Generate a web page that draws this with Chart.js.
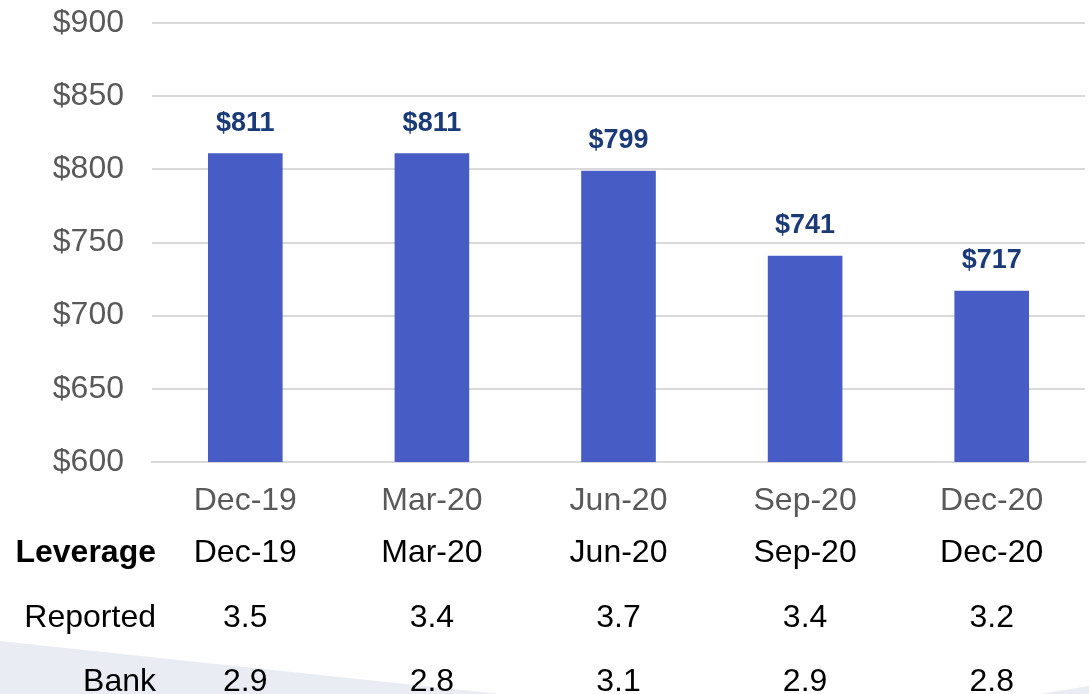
<!DOCTYPE html>
<html>
<head>
<meta charset="utf-8">
<script src="https://cdn.jsdelivr.net/npm/chart.js@4/dist/chart.umd.min.js"></script>
<style>
  html, body { margin: 0; padding: 0; background: #fff; }
  #wrap { position: relative; width: 1089px; height: 694px; overflow: hidden; }
  #deco { position: absolute; left: 0; top: 0; }
  #chart { position: absolute; left: 0; top: 0; }
</style>
</head>
<body>
<div id="wrap">
  <svg id="deco" width="1089" height="694">
    <polygon points="0,641 500,694 0,694" fill="#e9ecf2" />
    <polygon points="1040,694 1089,686 1089,694" fill="#e9ecf2" />
  </svg>
  <canvas id="chart" width="1089" height="694"></canvas>
</div>
<script>
// dados do gráfico
const quarters = ['Dec-19', 'Mar-20', 'Jun-20', 'Sep-20', 'Dec-20'];
const amounts = [811, 811, 799, 741, 717];
const reported = ['3.5', '3.4', '3.7', '3.4', '3.2'];
const bank = ['2.9', '2.8', '3.1', '2.9', '2.8'];
const tableTitle = 'Leverage';
const rowNames = ['Reported', 'Bank'];

const FONT = 'Arial, "Liberation Sans", sans-serif';

// rótulos acima das barras + tabela de alavancagem abaixo do eixo
const extras = {
  id: 'extras',
  afterDatasetsDraw(chart) {
    const ctx = chart.ctx;
    const x = chart.scales.x;
    const meta = chart.getDatasetMeta(0);
    ctx.save();
    ctx.textAlign = 'center';
    ctx.textBaseline = 'middle';
    ctx.font = 'bold 27px ' + FONT;
    ctx.fillStyle = '#1b3a78';
    meta.data.forEach((bar, i) => {
      ctx.fillText('$' + amounts[i], bar.x, bar.y - 30);
    });

    const rows = [
      { y: 553, name: tableTitle, bold: true, vals: quarters },
      { y: 618, name: rowNames[0], bold: false, vals: reported },
      { y: 682, name: rowNames[1], bold: false, vals: bank }
    ];
    ctx.fillStyle = '#000';
    rows.forEach(r => {
      ctx.font = (r.bold ? 'bold ' : '') + '32px ' + FONT;
      ctx.textAlign = 'right';
      ctx.fillText(r.name, 156, r.y);
      ctx.font = '32px ' + FONT;
      ctx.textAlign = 'center';
      r.vals.forEach((v, i) => {
        ctx.fillText(v, x.getPixelForValue(i), r.y);
      });
    });
    ctx.restore();
  }
};

new Chart(document.getElementById('chart'), {
  type: 'bar',
  data: {
    labels: quarters,
    datasets: [{
      data: amounts,
      backgroundColor: '#485cc6',
      barPercentage: 0.4,
      categoryPercentage: 1.0
    }]
  },
  options: {
    responsive: false,
    animation: false,
    layout: { padding: { top: 23, right: 4, left: 0, bottom: 0 } },
    plugins: {
      legend: { display: false },
      tooltip: { enabled: false }
    },
    scales: {
      y: {
        min: 600,
        max: 900,
        ticks: {
          stepSize: 50,
          padding: 28,
          color: '#595959',
          font: { family: FONT, size: 32 },
          callback: v => '$' + v
        },
        grid: { color: '#d9d9d9', lineWidth: 2, drawTicks: false },
        border: { display: false },
        afterFit: s => { s.width = 152; s.paddingTop = 0; s.paddingBottom = 0; }
      },
      x: {
        ticks: {
          padding: 20,
          color: '#595959',
          font: { family: FONT, size: 32 }
        },
        grid: { display: false, drawTicks: false },
        border: { color: '#d9d9d9', width: 2 },
        afterFit: s => { s.height = 232; }
      }
    }
  },
  plugins: [extras]
});
</script>
</body>
</html>
